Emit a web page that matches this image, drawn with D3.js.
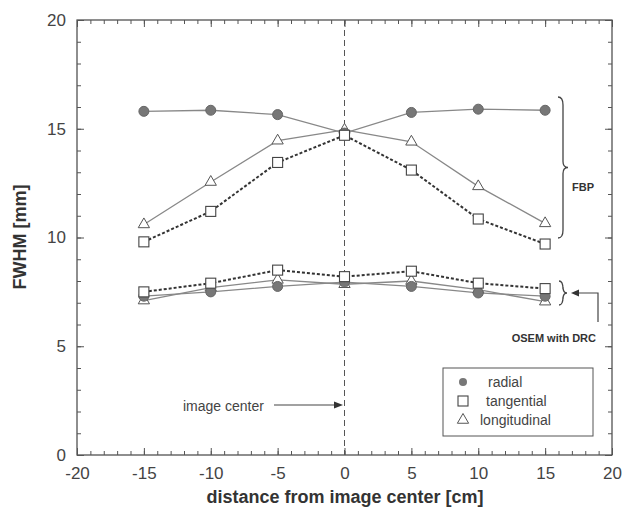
<!DOCTYPE html>
<html><head><meta charset="utf-8">
<script src="https://cdn.jsdelivr.net/npm/d3@7"></script>
<style>body{margin:0;background:#fff}svg{display:block}</style>
</head><body>
<svg id="c" width="624" height="519"></svg>
<script>
const positions = [-15, -10, -5, 0, 5, 10, 15];
const fbpRadial = [15.8, 15.85, 15.65, 14.8, 15.75, 15.9, 15.85];
const fbpTangential = [9.8, 11.2, 13.45, 14.7, 13.1, 10.85, 9.7];
const fbpLongitudinal = [10.6, 12.55, 14.45, 14.95, 14.4, 12.35, 10.65];
const osemRadial = [7.3, 7.5, 7.75, 7.95, 7.75, 7.45, 7.3];
const osemTangential = [7.5, 7.9, 8.5, 8.2, 8.45, 7.9, 7.65];
const osemLongitudinal = [7.1, 7.7, 8.05, 7.85, 8.0, 7.6, 7.05];
const xTicks = [-20, -15, -10, -5, 0, 5, 10, 15, 20];
const yTicks = [0, 5, 10, 15, 20];
const legendLabels = ["radial", "tangential", "longitudinal"];

const svg = d3.select("#c");
const x = d3.scaleLinear().domain([-20, 20]).range([77, 612]);
const y = d3.scaleLinear().domain([0, 20]).range([455, 20]);
const font = "'Liberation Sans', Arial, sans-serif";
const ink = "#333";

// frame
svg.append("rect").attr("x", x(-20)).attr("y", y(20)).attr("width", x(20) - x(-20)).attr("height", y(0) - y(20))
  .attr("fill", "none").attr("stroke", "#444").attr("stroke-width", 1.2);

// minor ticks (inward)
const xAxisB = d3.axisBottom(x).tickValues(d3.range(-20, 21, 1)).tickSize(-4).tickFormat("");
const xAxisT = d3.axisTop(x).tickValues(d3.range(-20, 21, 1)).tickSize(-4).tickFormat("");
const yAxisL = d3.axisLeft(y).tickValues(d3.range(0, 21, 1)).tickSize(-4).tickFormat("");
const yAxisR = d3.axisRight(y).tickValues(d3.range(0, 21, 1)).tickSize(-4).tickFormat("");
// major ticks with labels
const xMaj = d3.axisBottom(x).tickValues(xTicks).tickSize(-7).tickPadding(12).tickFormat(d => String(d));
const yMaj = d3.axisLeft(y).tickValues(yTicks).tickSize(-7).tickPadding(11).tickFormat(d => String(d));
const xMajT = d3.axisTop(x).tickValues(xTicks).tickSize(-7).tickFormat("");
const yMajR = d3.axisRight(y).tickValues(yTicks).tickSize(-7).tickFormat("");

function styleAxis(g) {
  g.select(".domain").remove();
  g.selectAll("line").attr("stroke", "#555").attr("stroke-width", 1);
  g.selectAll("text").attr("font-family", font).attr("font-size", 17).attr("fill", "#444");
}
svg.append("g").attr("transform", `translate(0,${y(0)})`).call(xAxisB).call(styleAxis);
svg.append("g").attr("transform", `translate(0,${y(20)})`).call(xAxisT).call(styleAxis);
svg.append("g").attr("transform", `translate(${x(-20)},0)`).call(yAxisL).call(styleAxis);
svg.append("g").attr("transform", `translate(${x(20)},0)`).call(yAxisR).call(styleAxis);
svg.append("g").attr("transform", `translate(0,${y(0)})`).call(xMaj).call(styleAxis);
svg.append("g").attr("transform", `translate(0,${y(20)})`).call(xMajT).call(styleAxis);
svg.append("g").attr("transform", `translate(${x(-20)},0)`).call(yMaj).call(styleAxis);
svg.append("g").attr("transform", `translate(${x(20)},0)`).call(yMajR).call(styleAxis);

// axis titles
svg.append("text").attr("x", 345).attr("y", 503).attr("text-anchor", "middle")
  .attr("font-family", font).attr("font-weight", "bold").attr("font-size", 18).attr("fill", ink)
  .text("distance from image center [cm]");
svg.append("text").attr("transform", `translate(26,237) rotate(-90)`).attr("text-anchor", "middle")
  .attr("font-family", font).attr("font-weight", "bold").attr("font-size", 18).attr("fill", ink)
  .text("FWHM [mm]");

// center dashed line
svg.append("line").attr("x1", x(0)).attr("x2", x(0)).attr("y1", y(20)).attr("y2", y(0))
  .attr("stroke", "#555").attr("stroke-width", 1).attr("stroke-dasharray", "6,4");

// series
const line = d3.line().x((d, i) => x(positions[i])).y(d => y(d));
const solid = {stroke: "#888", width: 1.3, dash: null};
const dashed = {stroke: "#333", width: 2, dash: "3,2"};
const series = [
  {v: fbpLongitudinal, m: "tri", s: solid},
  {v: fbpRadial, m: "circ", s: solid},
  {v: fbpTangential, m: "sq", s: dashed},
  {v: osemLongitudinal, m: "tri", s: solid},
  {v: osemRadial, m: "circ", s: solid},
  {v: osemTangential, m: "sq", s: dashed},
];
series.forEach(sr => {
  svg.append("path").attr("d", line(sr.v)).attr("fill", "none")
    .attr("stroke", sr.s.stroke).attr("stroke-width", sr.s.width)
    .attr("stroke-dasharray", sr.s.dash);
});
function marker(g, type, cx, cy) {
  if (type === "circ") {
    g.append("circle").attr("cx", cx).attr("cy", cy).attr("r", 5).attr("fill", "#777").attr("stroke", "#666");
  } else if (type === "sq") {
    g.append("rect").attr("x", cx - 5).attr("y", cy - 5).attr("width", 10).attr("height", 10)
      .attr("fill", "#fff").attr("stroke", "#444").attr("stroke-width", 1.1);
  } else {
    const sym = d3.symbol().type(d3.symbolTriangle).size(55);
    g.append("path").attr("d", sym()).attr("transform", `translate(${cx},${cy})`)
      .attr("fill", "#fff").attr("stroke", "#555").attr("stroke-width", 1);
  }
}
const mg = svg.append("g");
series.forEach(sr => sr.v.forEach((d, i) => marker(mg, sr.m, x(positions[i]), y(d))));

// braces
function brace(xb, y1, y2, w) {
  const ym = (y1 + y2) / 2;
  return `M${xb},${y1} Q${xb + w},${y1} ${xb + w},${y1 + 8} L${xb + w},${ym - 6} Q${xb + w},${ym} ${xb + 2 * w},${ym}` +
    ` Q${xb + w},${ym} ${xb + w},${ym + 6} L${xb + w},${y2 - 8} Q${xb + w},${y2} ${xb},${y2}`;
}
svg.append("path").attr("d", brace(558, 97, 238, 5)).attr("fill", "none").attr("stroke", "#444").attr("stroke-width", 1.3);
svg.append("text").attr("x", 572).attr("y", 191).attr("font-family", font).attr("font-weight", "bold")
  .attr("font-size", 11).attr("fill", ink).text("FBP");
svg.append("path").attr("d", brace(559, 281, 305, 4)).attr("fill", "none").attr("stroke", "#444").attr("stroke-width", 1.3);
svg.append("path").attr("d", "M598,322 L598,293 L578,293").attr("fill", "none").attr("stroke", "#444").attr("stroke-width", 1.2);
svg.append("path").attr("d", "M571,293 L579,289.5 L579,296.5 Z").attr("fill", "#333");
svg.append("text").attr("x", 596).attr("y", 342).attr("text-anchor", "end").attr("font-family", font)
  .attr("font-weight", "bold").attr("font-size", 11).attr("fill", ink).text("OSEM with DRC");

// image center annotation
svg.append("text").attr("x", 183).attr("y", 411).attr("font-family", font).attr("font-size", 14)
  .attr("fill", "#444").text("image center");
svg.append("line").attr("x1", 274).attr("x2", 336).attr("y1", 405).attr("y2", 405).attr("stroke", "#444").attr("stroke-width", 1.2);
svg.append("path").attr("d", "M343,405 L334,401.5 L334,408.5 Z").attr("fill", "#333");

// legend
svg.append("rect").attr("x", 443).attr("y", 368).attr("width", 150).attr("height", 68)
  .attr("fill", "#fff").attr("stroke", "#555").attr("stroke-width", 1);
const legTypes = ["circ", "sq", "tri"];
legendLabels.forEach((lab, i) => {
  const cy = 382 + i * 19;
  if (legTypes[i] === "circ") {
    svg.append("circle").attr("cx", 463).attr("cy", cy).attr("r", 4).attr("fill", "#777");
  } else marker(svg, legTypes[i], 463, cy);
  svg.append("text").attr("x", i === 0 ? 488 : (i === 1 ? 486 : 480)).attr("y", cy + 5)
    .attr("font-family", font).attr("font-size", 14).attr("fill", "#444").text(lab);
});
</script>
</body></html>
